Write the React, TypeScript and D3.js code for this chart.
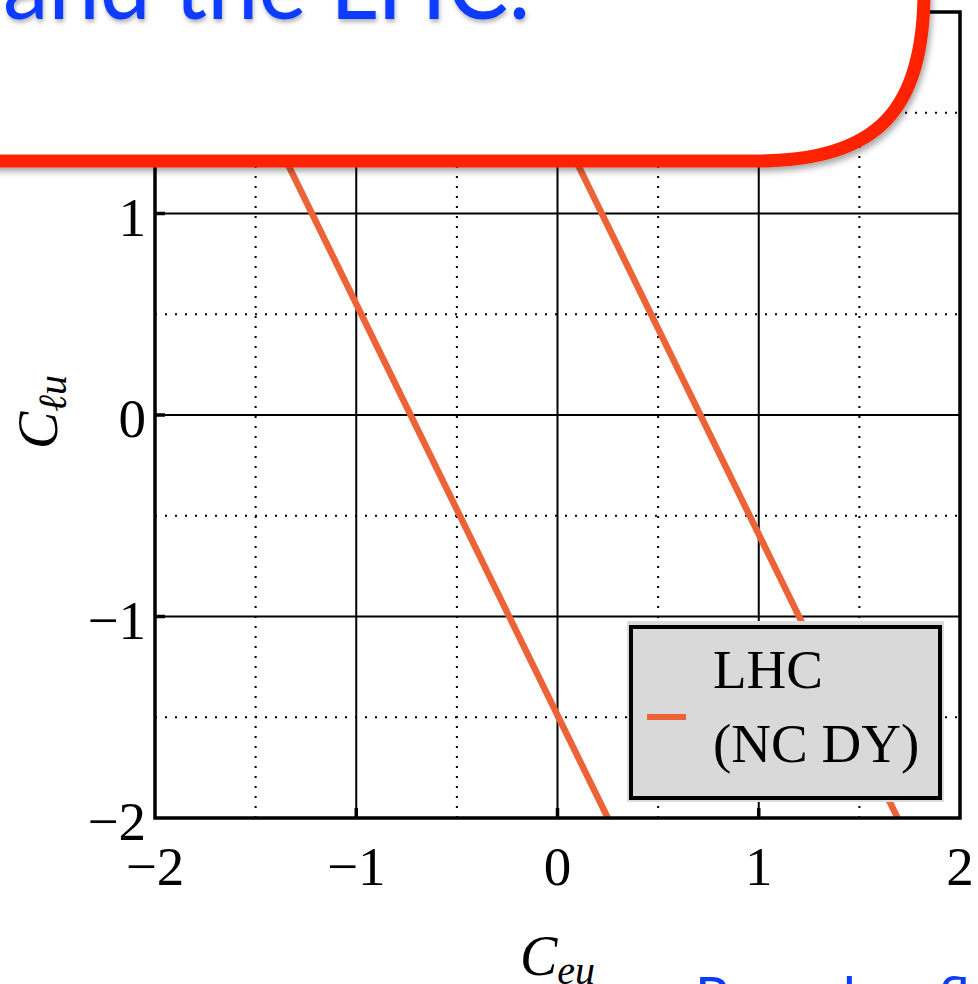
import React from "react";
import * as d3 from "d3";

// Axis domain and tick values
const xDomain = [-2, 2];
const yDomain = [-2, 2];
const majorTicks = [-2, -1, 0, 1, 2];
const gridSolid = [-1, 0, 1];
const gridDotted = [-1.5, -0.5, 0.5, 1.5];

// LHC neutral-current Drell-Yan band edges: C_eu at the C_lu end points
const bandCLu = [2, -2];
const bandLowerCeu = [-1.71, 0.25];
const bandUpperCeu = [-0.27, 1.69];

const legendLines = ["LHC", "(NC DY)"];
const calloutTitle = "and the LHC:";
const footerText = "Reveals a flat direction";

const W = 978;
const H = 984;
const plot = { left: 155, right: 960, top: 12, bottom: 818 };

const ORANGE = "#ec6337";
const RED = "#ff2400";
const BLUE = "#0b3bff";
const SERIF = "'Liberation Serif', 'DejaVu Serif', serif";
const SANS = "Lato, 'Open Sans', sans-serif";

const fmt = (v: number) => (v < 0 ? "\u2212" + Math.abs(v) : String(v));

export default function App() {
  const x = d3.scaleLinear().domain(xDomain).range([plot.left, plot.right]);
  const y = d3.scaleLinear().domain(yDomain).range([plot.bottom, plot.top]);

  const line = d3
    .line<[number, number]>()
    .x((d) => x(d[0]))
    .y((d) => y(d[1]));

  const lower = line(bandCLu.map((c, i) => [bandLowerCeu[i], c] as [number, number]));
  const upper = line(bandCLu.map((c, i) => [bandUpperCeu[i], c] as [number, number]));

  const tickLen = 10;

  return (
    <svg
      width={W}
      height={H}
      viewBox={`0 0 ${W} ${H}`}
      style={{ position: "absolute", left: 0, top: 0, background: "#fff" }}
    >
      <defs>
        <clipPath id="plotClip">
          <rect x={plot.left} y={plot.top} width={plot.right - plot.left} height={plot.bottom - plot.top} />
        </clipPath>
        <filter id="boxShadow" x="-10%" y="-10%" width="130%" height="140%">
          <feDropShadow dx="2" dy="4" stdDeviation="3" floodColor="#000" floodOpacity="0.35" />
        </filter>
        <filter id="textShadow" x="-10%" y="-50%" width="120%" height="200%">
          <feDropShadow dx="1" dy="3" stdDeviation="2" floodColor="#000" floodOpacity="0.3" />
        </filter>
      </defs>

      <rect width={W} height={H} fill="#fff" />

      {/* dotted half-unit grid */}
      <g stroke="#000" strokeWidth={2} strokeDasharray="2 8">
        {gridDotted.map((v) => (
          <line key={"dx" + v} x1={x(v)} x2={x(v)} y1={plot.bottom} y2={plot.top} />
        ))}
        {gridDotted.map((v) => (
          <line key={"dy" + v} x1={plot.left} x2={plot.right} y1={y(v)} y2={y(v)} />
        ))}
      </g>

      {/* solid unit grid */}
      <g stroke="#000" strokeWidth={2}>
        {gridSolid.map((v) => (
          <line key={"sx" + v} x1={x(v)} x2={x(v)} y1={plot.bottom} y2={plot.top} />
        ))}
        {gridSolid.map((v) => (
          <line key={"sy" + v} x1={plot.left} x2={plot.right} y1={y(v)} y2={y(v)} />
        ))}
      </g>

      {/* inward ticks */}
      <g stroke="#000" strokeWidth={3.5}>
        {gridSolid.map((v) => (
          <line key={"ty" + v} x1={plot.left} x2={plot.left + tickLen} y1={y(v)} y2={y(v)} />
        ))}
        {gridSolid.map((v) => (
          <line key={"tx" + v} x1={x(v)} x2={x(v)} y1={plot.bottom} y2={plot.bottom - tickLen} />
        ))}
      </g>

      {/* LHC band edges */}
      <g clipPath="url(#plotClip)" fill="none" stroke={ORANGE} strokeWidth={6.5}>
        <path d={lower ?? ""} />
        <path d={upper ?? ""} />
      </g>

      {/* frame */}
      <rect
        x={plot.left}
        y={plot.top}
        width={plot.right - plot.left}
        height={plot.bottom - plot.top}
        fill="none"
        stroke="#000"
        strokeWidth={3.5}
      />

      {/* tick labels */}
      <g fontFamily={SERIF} fontSize={55} fill="#000">
        {majorTicks.map((v) => (
          <text key={"ly" + v} x={146} y={y(v) + 22} textAnchor="end">
            {fmt(v)}
          </text>
        ))}
        {majorTicks.map((v) => (
          <text key={"lx" + v} x={x(v)} y={885} textAnchor="middle">
            {fmt(v)}
          </text>
        ))}
      </g>

      {/* axis titles */}
      <text x={520} y={975} fontFamily={SERIF} fontStyle="italic" fontSize={56} fill="#000">
        C
        <tspan fontSize={40} dy={9}>
          eu
        </tspan>
      </text>
      <text
        transform="translate(57,412) rotate(-90)"
        textAnchor="middle"
        fontFamily={SERIF}
        fontStyle="italic"
        fontSize={56}
        fill="#000"
      >
        C
        <tspan fontSize={40} dy={9}>
          ℓu
        </tspan>
      </text>

      {/* legend */}
      <rect x={627} y={621} width={317} height={181} fill="#dcdcdc" />
      <rect x={631} y={627} width={309} height={171} fill="#d9d9d9" stroke="#000" strokeWidth={4} />
      <line x1={647} x2={686} y1={717} y2={717} stroke={ORANGE} strokeWidth={6} />
      <g fontFamily={SERIF} fontSize={55} fill="#000">
        <text x={713} y={688}>
          {legendLines[0]}
        </text>
        <text x={713} y={762}>
          {legendLines[1]}
        </text>
      </g>

      {/* callout box */}
      <path
        d="M -60 -60 L -60 161 L 757 161 C 880 161 924 108 924 -10 L 924 -60 Z"
        fill="#fff"
        stroke={RED}
        strokeWidth={13}
        filter="url(#boxShadow)"
      />
      <text
        x={3}
        y={19}
        fontFamily={SANS}
        fontSize={96}
        fill={BLUE}
        textLength={528}
        lengthAdjust="spacingAndGlyphs"
        filter="url(#textShadow)"
      >
        {calloutTitle}
      </text>

      {/* footer */}
      <text x={695} y={1017} fontFamily={SANS} fontSize={56} fill={BLUE}>
        {footerText}
      </text>
    </svg>
  );
}
